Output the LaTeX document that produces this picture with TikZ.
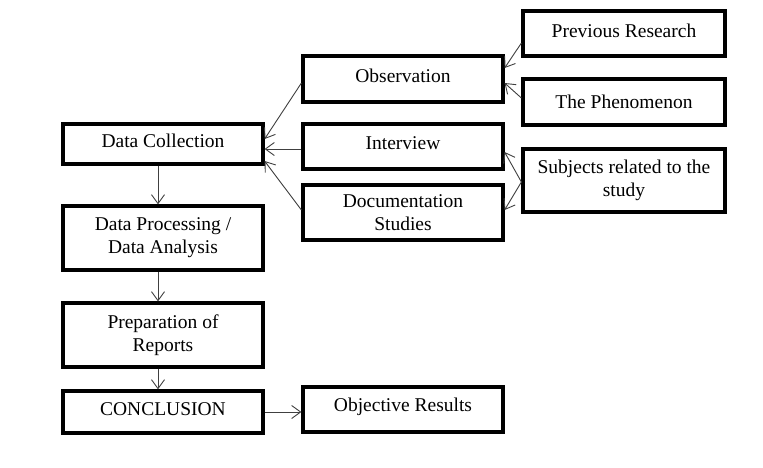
\documentclass[tikz,border=0pt]{standalone}
\usepackage{fontspec}
\setmainfont{Liberation Serif}
\usetikzlibrary{arrows.meta}
\newcommand{\upt}[1]{\raisebox{3pt}[\height][\depth]{#1}}
\begin{document}
\begin{tikzpicture}[x=1pt,y=-1pt,
  box/.style={draw=black,line width=3.2pt,fill=white,inner sep=0pt,align=center,
    font=\fontsize{19.5}{23}\selectfont,minimum width=200pt},
  conn/.style={draw=black!75,line width=0.9pt,-{Straight Barb[length=9pt,width=13pt]}}]
\useasboundingbox (0,0) rectangle (763,467);
\fill[white] (0,0) rectangle (763,467);
% left column
\node[box,minimum height=40pt] (dc) at (163,144) {\upt{Data Collection}};
\node[box,minimum height=64pt] (dp) at (163,238) {Data Processing /\\Data Analysis};
\node[box,minimum height=64pt] (pr) at (163,335) {Preparation of\\Reports};
\node[box,minimum height=42pt] (cc) at (163,412) {\upt{CONCLUSION}};
% middle column
\node[box,minimum height=46pt] (obs) at (403,79) {\upt{Observation}};
\node[box,minimum height=45pt] (int) at (403,146.5) {\upt{Interview}};
\node[box,minimum height=55pt] (doc) at (403,212.5) {Documentation\\Studies};
\node[box,minimum height=45pt] (obj) at (403,409.5) {\upt{Objective Results}};
% right column
\node[box,minimum width=202pt,minimum height=45pt] (prev) at (624,33.5) {\upt{Previous Research}};
\node[box,minimum width=202pt,minimum height=46pt] (phen) at (624,102) {The Phenomenon};
\node[box,minimum width=202pt,minimum height=63pt] (subj) at (624,180.5) {Subjects related to the\\study};
% connectors
\draw[conn] ([yshift=-9.5pt]prev.west) -- ([yshift=11pt]obs.east);
\draw[conn] ([yshift=4pt]phen.west) -- ([yshift=-4pt]obs.east);
\draw[conn] ([yshift=-1.5pt]subj.west) -- ([yshift=-5.5pt]int.east);
\draw[conn] ([yshift=-1.5pt]subj.west) -- ([yshift=2.5pt]doc.east);
\draw[conn] ([yshift=-4pt]obs.west) -- ([yshift=5pt]dc.east);
\draw[conn] ([yshift=-2.5pt]int.west) -- ([yshift=-5pt]dc.east);
\draw[conn] ([yshift=2.5pt]doc.west) -- ([yshift=-17pt]dc.east);
\draw[conn] ([xshift=-5pt]dc.south) -- ([xshift=-5pt]dp.north);
\draw[conn] ([xshift=-5pt]dp.south) -- ([xshift=-5pt]pr.north);
\draw[conn] ([xshift=-5pt]pr.south) -- ([xshift=-5pt]cc.north);
\draw[conn] (cc.east) -- (cc.east -| obj.west);
\end{tikzpicture}
\end{document}
